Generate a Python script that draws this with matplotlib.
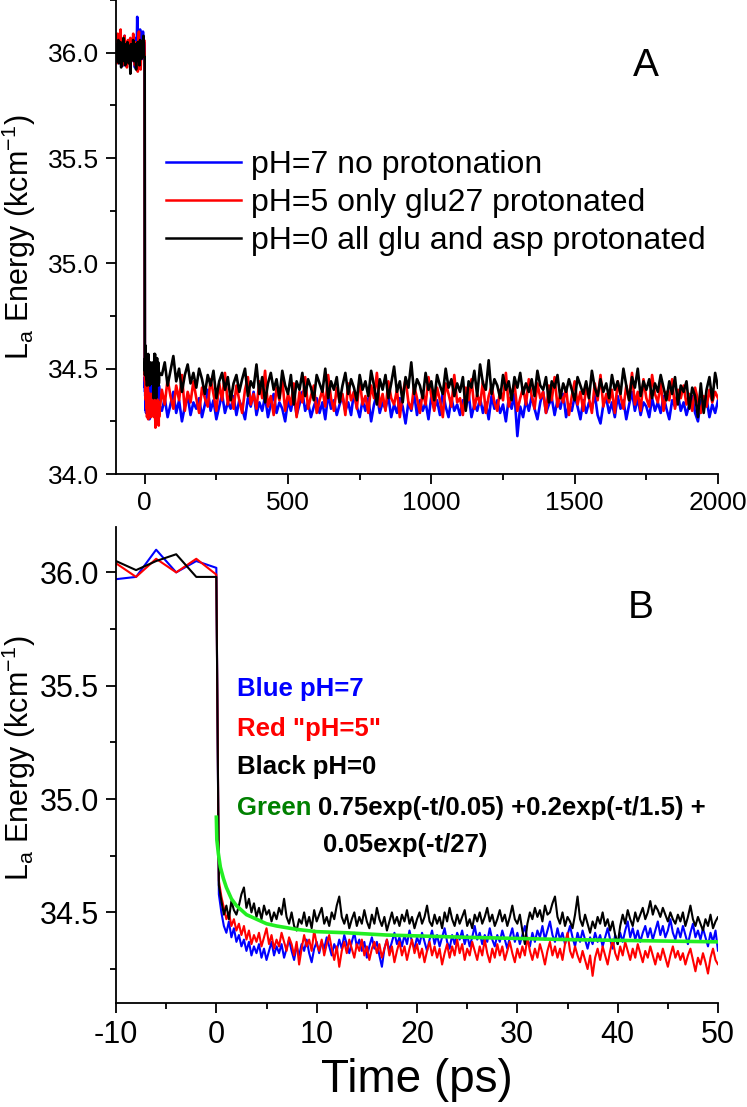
import numpy as np
import matplotlib
matplotlib.use('Agg')
import matplotlib.pyplot as plt
from matplotlib.ticker import MultipleLocator, FormatStrFormatter

plt.rcParams['font.family'] = ['Liberation Sans', 'DejaVu Sans']
plt.rcParams['mathtext.fontset'] = 'custom'
plt.rcParams['mathtext.rm'] = 'Liberation Sans'
plt.rcParams['mathtext.default'] = 'regular'
plt.rcParams['axes.unicode_minus'] = False

# before the pulse: -100 .. 0 ps, every 2 ps
time_pre = np.arange(-100, 1, 2)
blue_pre = [36.03, 35.97, 36.06, 35.99, 36.04, 35.95, 36.02, 36.07, 35.98, 36.01,
            35.96, 36.05, 36.00, 35.94, 36.03, 36.08, 35.99, 36.02, 35.96, 36.04,
            36.00, 35.97, 36.06, 35.98, 36.03, 35.95, 36.01, 36.05, 35.99, 36.02,
            35.96, 36.04, 36.00, 35.93, 36.03, 36.07, 35.98, 36.17, 36.02, 35.97,
            36.04, 36.00, 36.11, 36.03, 35.98, 35.97, 35.98, 36.10, 36.00, 36.05,
            36.02]
red_pre = [35.98, 36.05, 35.95, 36.09, 36.01, 35.96, 36.04, 35.99, 36.11, 35.97,
           36.03, 35.94, 36.06, 36.00, 35.96, 36.08, 36.02, 35.97, 36.05, 35.93,
           36.01, 36.06, 35.98, 36.03, 35.95, 36.07, 36.00, 35.96, 36.04, 35.99,
           36.09, 35.97, 36.02, 35.94, 36.05, 36.00, 35.96, 36.03, 35.91, 36.06,
           36.10, 35.98, 36.04, 35.92, 36.01, 36.04, 35.98, 36.06, 36.00, 36.06,
           35.99]
black_pre = [36.01, 35.96, 36.04, 35.98, 36.06, 35.95, 36.02, 35.99, 36.05, 35.93,
             36.03, 36.00, 35.96, 36.07, 35.98, 36.02, 35.94, 36.04, 36.00, 35.97,
             36.05, 35.99, 35.95, 36.03, 36.01, 35.90, 36.04, 35.97, 36.02, 35.98,
             36.06, 35.96, 36.01, 35.99, 36.04, 35.92, 36.03, 35.98, 36.05, 35.96,
             36.02, 35.94, 36.06, 36.00, 35.97, 36.05, 36.01, 36.05, 36.08, 35.98,
             35.98]

# after the pulse: 0.25 .. 50 ps, every 0.25 ps
time_fine = np.arange(1, 201) * 0.25
blue_fine = [34.58, 34.50, 34.44, 34.41, 34.46, 34.39, 34.43, 34.37,
             34.40, 34.35, 34.38, 34.33, 34.37, 34.31, 34.35, 34.32,
             34.36, 34.30, 34.34, 34.29, 34.33, 34.37, 34.31, 34.35,
             34.32, 34.36, 34.30, 34.34, 34.38, 34.33, 34.29, 34.35,
             34.31, 34.36, 34.33, 34.38, 34.32, 34.28, 34.34, 34.37,
             34.32, 34.37, 34.34, 34.39, 34.35, 34.31, 34.36, 34.33,
             34.38, 34.34, 34.40, 34.36, 34.32, 34.37, 34.41, 34.35,
             34.38, 34.33, 34.37, 34.30, 34.35, 34.39, 34.34, 34.37,
             34.31, 34.26, 34.34, 34.38, 34.33, 34.37, 34.41, 34.36,
             34.39, 34.35, 34.40, 34.36, 34.42, 34.37, 34.34, 34.39,
             34.36, 34.41, 34.37, 34.33, 34.38, 34.42, 34.36, 34.40,
             34.35, 34.39, 34.43, 34.37, 34.34, 34.40, 34.36, 34.41,
             34.38, 34.42, 34.36, 34.40, 34.35, 34.39, 34.44, 34.38,
             34.41, 34.36, 34.40, 34.37, 34.43, 34.38, 34.35, 34.40,
             34.37, 34.42, 34.38, 34.34, 34.39, 34.43, 34.37, 34.41,
             34.36, 34.40, 34.44, 34.38, 34.35, 34.41, 34.37, 34.42,
             34.39, 34.44, 34.38, 34.42, 34.46, 34.40, 34.37, 34.43,
             34.38, 34.41, 34.36, 34.40, 34.44, 34.39, 34.35, 34.41,
             34.37, 34.42, 34.38, 34.34, 34.39, 34.36, 34.41, 34.37,
             34.40, 34.35, 34.39, 34.43, 34.38, 34.34, 34.40, 34.36,
             34.41, 34.37, 34.42, 34.46, 34.39, 34.43, 34.38, 34.42,
             34.37, 34.41, 34.44, 34.39, 34.43, 34.38, 34.42, 34.46,
             34.40, 34.44, 34.39, 34.42, 34.47, 34.41, 34.38, 34.43,
             34.39, 34.44, 34.40, 34.36, 34.41, 34.45, 34.39, 34.42,
             34.38, 34.43, 34.39, 34.35, 34.41, 34.37, 34.42, 34.33]
red_fine = [34.64, 34.57, 34.52, 34.47, 34.50, 34.44, 34.47, 34.42,
            34.45, 34.40, 34.44, 34.38, 34.42, 34.36, 34.40, 34.37,
            34.41, 34.35, 34.39, 34.43, 34.36, 34.40, 34.34, 34.38,
            34.35, 34.41, 34.37, 34.33, 34.39, 34.36, 34.31, 34.37,
            34.27, 34.34, 34.40, 34.35, 34.38, 34.33, 34.42, 34.36,
            34.33, 34.38, 34.31, 34.36, 34.40, 34.34, 34.29, 34.35,
            34.26, 34.33, 34.37, 34.32, 34.38, 34.34, 34.30, 34.36,
            34.33, 34.38, 34.31, 34.35, 34.29, 34.34, 34.37, 34.32,
            34.36, 34.30, 34.34, 34.38, 34.31, 34.35, 34.28, 34.33,
            34.37, 34.31, 34.35, 34.29, 34.34, 34.38, 34.32, 34.36,
            34.30, 34.34, 34.28, 34.33, 34.37, 34.31, 34.35, 34.30,
            34.34, 34.27, 34.32, 34.36, 34.30, 34.35, 34.31, 34.38,
            34.32, 34.36, 34.29, 34.34, 34.31, 34.37, 34.33, 34.29,
            34.35, 34.31, 34.38, 34.32, 34.28, 34.34, 34.30, 34.36,
            34.31, 34.35, 34.29, 34.33, 34.37, 34.32, 34.28, 34.34,
            34.30, 34.35, 34.31, 34.39, 34.33, 34.29, 34.34, 34.30,
            34.36, 34.32, 34.27, 34.33, 34.37, 34.31, 34.35, 34.30,
            34.34, 34.29, 34.36, 34.41, 34.33, 34.30, 34.35, 34.31,
            34.28, 34.33, 34.29, 34.25, 34.31, 34.22, 34.30, 34.34,
            34.29, 34.35, 34.31, 34.27, 34.33, 34.38, 34.32, 34.29,
            34.35, 34.31, 34.37, 34.33, 34.29, 34.34, 34.30, 34.36,
            34.32, 34.28, 34.33, 34.30, 34.35, 34.31, 34.27, 34.32,
            34.29, 34.34, 34.30, 34.26, 34.31, 34.35, 34.30, 34.33,
            34.29, 34.32, 34.27, 34.31, 34.34, 34.29, 34.24, 34.30,
            34.27, 34.32, 34.28, 34.23, 34.30, 34.34, 34.29, 34.27]
black_fine = [34.62, 34.55, 34.49, 34.53, 34.47, 34.55, 34.51, 34.49,
              34.53, 34.58, 34.61, 34.52, 34.56, 34.50, 34.54, 34.48,
              34.52, 34.47, 34.53, 34.49, 34.51, 34.46, 34.50, 34.47,
              34.52, 34.49, 34.56, 34.48, 34.45, 34.50, 34.44, 34.42,
              34.47, 34.45, 34.50, 34.44, 34.48, 34.43, 34.51, 34.46,
              34.49, 34.52, 34.45, 34.48, 34.44, 34.50, 34.47, 34.53,
              34.57, 34.48, 34.45, 34.49, 34.43, 34.47, 34.50, 34.44,
              34.48, 34.45, 34.51, 34.46, 34.43, 34.49, 34.45, 34.52,
              34.47, 34.44, 34.48, 34.42, 34.46, 34.50, 34.45, 34.48,
              34.44, 34.49, 34.46, 34.51, 34.45, 34.48, 34.43, 34.47,
              34.50, 34.45, 34.48, 34.53, 34.46, 34.44, 34.49, 34.45,
              34.48, 34.43, 34.50, 34.46, 34.52, 34.47, 34.44, 34.49,
              34.45, 34.48, 34.51, 34.44, 34.47, 34.43, 34.49, 34.46,
              34.50, 34.45, 34.48, 34.52, 34.46, 34.49, 34.44, 34.47,
              34.51, 34.46, 34.49, 34.44, 34.48, 34.53, 34.47, 34.45,
              34.49, 34.42, 34.36, 34.45, 34.50, 34.47, 34.52, 34.48,
              34.51, 34.46, 34.53, 34.49, 34.50, 34.54, 34.57, 34.48,
              34.45, 34.50, 34.44, 34.48, 34.46, 34.43, 34.49, 34.57,
              34.47, 34.44, 34.49, 34.45, 34.41, 34.46, 34.43, 34.48,
              34.45, 34.50, 34.44, 34.47, 34.42, 34.46, 34.40, 34.36,
              34.44, 34.49, 34.45, 34.51, 34.47, 34.44, 34.50, 34.46,
              34.49, 34.52, 34.47, 34.50, 34.55, 34.49, 34.53, 34.51,
              34.48, 34.52, 34.49, 34.46, 34.50, 34.47, 34.45, 34.49,
              34.46, 34.50, 34.44, 34.48, 34.53, 34.47, 34.44, 34.48,
              34.45, 34.42, 34.47, 34.44, 34.49, 34.43, 34.46, 34.48]

# long run: 60 .. 2000 ps, every 10 ps
time_long = np.arange(60, 2001, 10)
blue_long = [34.30, 34.36, 34.27, 34.33, 34.39, 34.29, 34.35, 34.25, 34.32, 34.37, 34.28, 34.34, 34.31,
             34.36, 34.27, 34.33, 34.40, 34.30, 34.35, 34.26, 34.32, 34.38, 34.29, 34.34, 34.31, 34.37,
             34.28, 34.35, 34.31, 34.26, 34.36, 34.32, 34.39, 34.28, 34.34, 34.30, 34.37, 34.27, 34.33,
             34.38, 34.29, 34.34, 34.31, 34.25, 34.35, 34.30, 34.37, 34.28, 34.33, 34.39, 34.30, 34.34,
             34.27, 34.32, 34.36, 34.29, 34.34, 34.26, 34.38, 34.31, 34.35, 34.28, 34.33, 34.37, 34.30,
             34.34, 34.28, 34.39, 34.32, 34.27, 34.35, 34.30, 34.36, 34.25, 34.33, 34.38, 34.29, 34.34,
             34.31, 34.37, 34.27, 34.33, 34.29, 34.36, 34.32, 34.24, 34.34, 34.30, 34.38, 34.28, 34.35,
             34.30, 34.34, 34.26, 34.37, 34.31, 34.35, 34.28, 34.39, 34.32, 34.27, 34.36, 34.30, 34.33,
             34.28, 34.35, 34.31, 34.38, 34.27, 34.33, 34.30, 34.36, 34.29, 34.34, 34.26, 34.37, 34.31,
             34.35, 34.29, 34.33, 34.25, 34.36, 34.31, 34.38, 34.18, 34.32, 34.27, 34.35, 34.30, 34.37,
             34.31, 34.26, 34.34, 34.39, 34.29, 34.33, 34.36, 34.28, 34.35, 34.31, 34.38, 34.27, 34.33,
             34.30, 34.37, 34.32, 34.26, 34.35, 34.29, 34.34, 34.31, 34.38, 34.28, 34.24, 34.33, 34.36,
             34.29, 34.34, 34.27, 34.37, 34.31, 34.35, 34.26, 34.33, 34.39, 34.30, 34.36, 34.28, 34.34,
             34.32, 34.27, 34.36, 34.30, 34.34, 34.29, 34.37, 34.31, 34.26, 34.35, 34.32, 34.38, 34.30,
             34.34, 34.28, 34.33, 34.37, 34.29, 34.25, 34.35, 34.31, 34.36, 34.27, 34.33, 34.29, 34.35]
red_long = [34.40, 34.33, 34.45, 34.37, 34.31, 34.42, 34.35, 34.47, 34.30, 34.39, 34.34, 34.44, 34.36,
            34.29, 34.41, 34.36, 34.32, 34.45, 34.38, 34.30, 34.43, 34.35, 34.48, 34.33, 34.39, 34.31,
            34.42, 34.35, 34.29, 34.40, 34.46, 34.33, 34.38, 34.31, 34.44, 34.36, 34.49, 34.32, 34.37,
            34.28, 34.41, 34.35, 34.45, 34.30, 34.38, 34.33, 34.43, 34.27, 34.39, 34.34, 34.46, 34.31,
            34.37, 34.42, 34.29, 34.35, 34.40, 34.32, 34.47, 34.36, 34.30, 34.41, 34.34, 34.38, 34.28,
            34.43, 34.35, 34.39, 34.31, 34.45, 34.33, 34.37, 34.29, 34.42, 34.36, 34.48, 34.32, 34.38,
            34.30, 34.44, 34.36, 34.33, 34.40, 34.27, 34.38, 34.45, 34.34, 34.31, 34.42, 34.36, 34.29,
            34.39, 34.33, 34.46, 34.37, 34.30, 34.41, 34.35, 34.27, 34.43, 34.38, 34.32, 34.47, 34.34,
            34.36, 34.28, 34.41, 34.35, 34.45, 34.31, 34.38, 34.33, 34.44, 34.29, 34.37, 34.42, 34.34,
            34.30, 34.40, 34.35, 34.48, 34.32, 34.38, 34.43, 34.30, 34.36, 34.41, 34.33, 34.45, 34.37,
            34.31, 34.43, 34.36, 34.39, 34.29, 34.42, 34.35, 34.46, 34.32, 34.38, 34.34, 34.41, 34.28,
            34.37, 34.44, 34.33, 34.39, 34.30, 34.41, 34.36, 34.29, 34.43, 34.35, 34.47, 34.32, 34.38,
            34.34, 34.40, 34.29, 34.44, 34.37, 34.31, 34.42, 34.35, 34.48, 34.33, 34.39, 34.30, 34.45,
            34.36, 34.32, 34.47, 34.38, 34.34, 34.43, 34.30, 34.39, 34.35, 34.45, 34.31, 34.40, 34.36,
            34.42, 34.33, 34.38, 34.30, 34.41, 34.35, 34.29, 34.37, 34.32, 34.40, 34.34, 34.39, 34.36]
black_long = [34.47, 34.53, 34.42, 34.49, 34.56, 34.44, 34.50, 34.39, 34.47, 34.52, 34.43, 34.48, 34.41,
              34.50, 34.45, 34.38, 34.47, 34.42, 34.49, 34.36, 34.44, 34.48, 34.40, 34.46, 34.35, 34.43,
              34.47, 34.39, 34.45, 34.50, 34.37, 34.44, 34.41, 34.52, 34.38, 34.46, 34.34, 34.43, 34.48,
              34.40, 34.45, 34.36, 34.49, 34.42, 34.38, 34.47, 34.33, 34.44, 34.40, 34.48, 34.37, 34.45,
              34.41, 34.35, 34.47, 34.43, 34.39, 34.50, 34.36, 34.44, 34.40, 34.46, 34.34, 34.42, 34.48,
              34.38, 34.45, 34.41, 34.35, 34.47, 34.40, 34.44, 34.37, 34.49, 34.42, 34.33, 34.45, 34.40,
              34.47, 34.36, 34.43, 34.51, 34.39, 34.44, 34.34, 34.46, 34.41, 34.53, 34.38, 34.45, 34.42,
              34.36, 34.48, 34.40, 34.44, 34.35, 34.47, 34.42, 34.38, 34.50, 34.41, 34.45, 34.37, 34.43,
              34.39, 34.46, 34.30, 34.44, 34.41, 34.49, 34.37, 34.52, 34.43, 34.40, 34.54, 34.38, 34.45,
              34.42, 34.36, 34.47, 34.40, 34.44, 34.35, 34.46, 34.41, 34.48, 34.38, 34.43, 34.39, 34.45,
              34.37, 34.49, 34.42, 34.40, 34.46, 34.34, 34.44, 34.41, 34.47, 34.36, 34.43, 34.39, 34.45,
              34.40, 34.35, 34.46, 34.42, 34.38, 34.44, 34.36, 34.49, 34.41, 34.37, 34.45, 34.39, 34.43,
              34.36, 34.47, 34.40, 34.44, 34.38, 34.50, 34.42, 34.35, 34.46, 34.41, 34.50, 34.37, 34.44,
              34.40, 34.45, 34.36, 34.43, 34.39, 34.47, 34.41, 34.35, 34.44, 34.38, 34.46, 34.33, 34.42,
              34.39, 34.44, 34.31, 34.41, 34.37, 34.27, 34.43, 34.29, 34.40, 34.46, 34.35, 34.48, 34.41]

# triexponential fit
fit_time = [0.0, 0.05, 0.2, 0.4, 0.7, 1.0, 1.5, 2.0, 3.0, 4.0, 5.0, 6.0, 8.0, 10.0,
            13.0, 17.0, 25.0, 35.0, 50.0]
fit_energy = [34.92, 34.82, 34.76, 34.70, 34.65, 34.61, 34.56, 34.53, 34.49, 34.47,
              34.45, 34.44, 34.425, 34.415, 34.41, 34.40, 34.39, 34.38, 34.37]

labels = ['pH=7 no protonation', 'pH=5 only glu27 protonated',
          'pH=0 all glu and asp protonated']
colors = ['#0000ff', '#ff0000', '#000000']

time_all = np.concatenate([time_pre, time_fine, time_long])
series = [np.concatenate([blue_pre, blue_fine, blue_long]),
          np.concatenate([red_pre, red_fine, red_long]),
          np.concatenate([black_pre, black_fine, black_long])]

fig = plt.figure(figsize=(7.47, 11.07), dpi=100)
ax1 = fig.add_axes([0.1553, 0.5718, 0.8059, 0.4282])
ax2 = fig.add_axes([0.1553, 0.0939, 0.8059, 0.4300])

ylab = r'L$_{a}$ Energy (kcm$^{-1}$)'

# panel A
for y, c, lab in zip(series, colors, labels):
    ax1.plot(time_all, y, color=c, lw=1.9, label=lab)
ax1.set_xlim(-100, 2000)
ax1.set_ylim(34.0, 36.25)
ax1.xaxis.set_major_locator(MultipleLocator(500))
ax1.xaxis.set_minor_locator(MultipleLocator(250))
leg = ax1.legend(loc='center left', bbox_to_anchor=(166 / 747, 1 - 203 / 1107),
                 bbox_transform=fig.transFigure, frameon=False, fontsize=23,
                 handlelength=2.35, handletextpad=0.32, labelspacing=0.25,
                 borderpad=0, borderaxespad=0)
for h in leg.get_lines():
    h.set_linewidth(1.8)
fig.text(646 / 747, 1 - 66 / 1107, 'A', fontsize=28, ha='center', va='center')

# panel B
for y, c in zip(series, colors):
    ax2.plot(time_all, y, color=c, lw=1.5)
ax2.plot(fit_time, fit_energy, color='#22ee22', lw=2.6)
ax2.set_xlim(-10, 50)
ax2.set_ylim(34.1, 36.2)
ax2.xaxis.set_major_locator(MultipleLocator(10))
ax2.xaxis.set_minor_locator(MultipleLocator(5))
ax2.set_xlabel('Time (ps)', fontsize=33)
ax2.xaxis.set_label_coords(0.5, -0.115)
fig.text(641 / 747, 1 - 608 / 1107, 'B', fontsize=28, ha='center', va='center')

tkw = dict(fontsize=18.5, fontweight='bold', va='center')
fig.text(237 / 747, 1 - 689 / 1107, 'Blue pH=7', color='#0000ff', **tkw)
fig.text(237 / 747, 1 - 729 / 1107, 'Red "pH=5"', color='#ff0000', **tkw)
fig.text(237 / 747, 1 - 767 / 1107, 'Black pH=0', color='black', **tkw)
fig.text(237 / 747, 1 - 808 / 1107, 'Green', color='#008000', **tkw)
fig.text(318 / 747, 1 - 808 / 1107, '0.75exp(-t/0.05) +0.2exp(-t/1.5) +',
         color='black', **tkw)
fig.text(323 / 747, 1 - 845 / 1107, '0.05exp(-t/27)', color='black', **tkw)

for ax, lsize, ly in ((ax1, 19, 0.5), (ax2, 22, 0.515)):
    ax.yaxis.set_major_locator(MultipleLocator(0.5))
    ax.yaxis.set_minor_locator(MultipleLocator(0.25))
    ax.spines['top'].set_visible(False)
    ax.spines['right'].set_visible(False)
    for s in ('left', 'bottom'):
        ax.spines[s].set_linewidth(1.3)
    ax.yaxis.set_major_formatter(FormatStrFormatter('%.1f'))
    ax.tick_params(which='major', direction='out', length=7, width=1.3,
                   labelsize=lsize, pad=5)
    ax.tick_params(which='minor', direction='out', length=4, width=1.3)
    ax.set_ylabel(ylab, fontsize=22)
    ax.yaxis.set_label_coords(-0.13, ly)

fig.savefig('out.png', dpi=100)
